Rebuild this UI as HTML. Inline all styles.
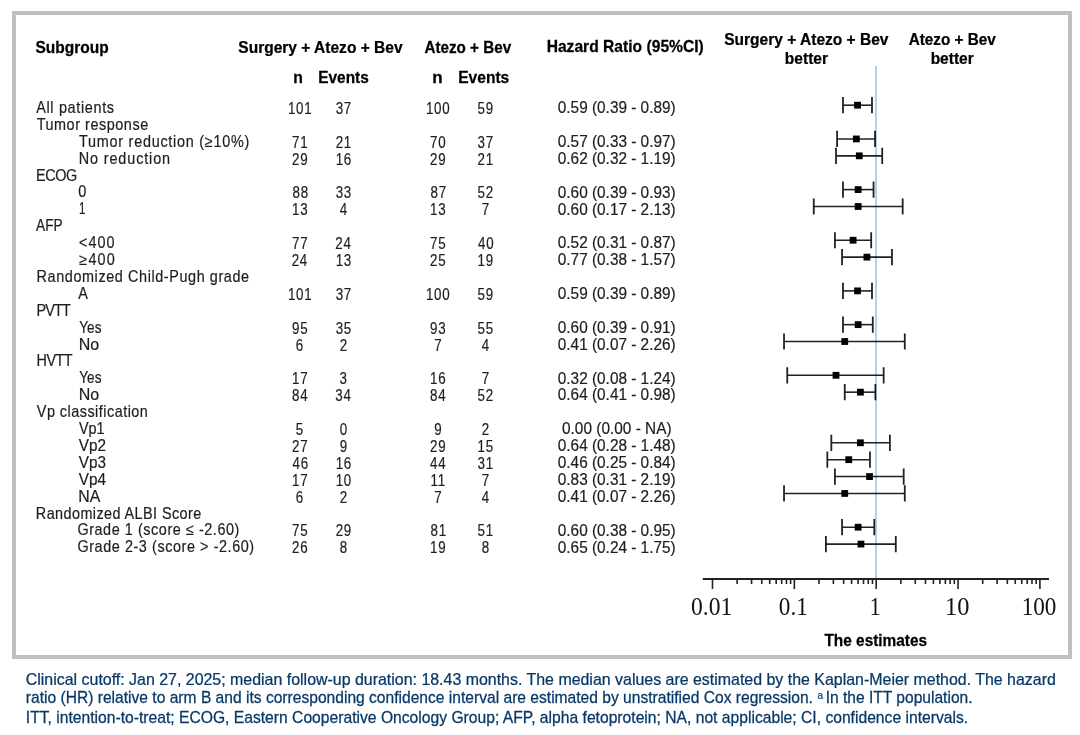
<!DOCTYPE html><html><head><meta charset="utf-8"><style>html,body{margin:0;padding:0;background:#fff;}body{width:1080px;height:735px;overflow:hidden;}svg{display:block;filter:blur(0.3px);}</style></head><body>
<svg width="1080" height="735" viewBox="0 0 1080 735">
<rect x="0" y="0" width="1080" height="735" fill="#fff"/>
<rect x="14" y="13" width="1056" height="644" fill="none" stroke="#bfbfbf" stroke-width="4"/>
<path d="M842.98 105.20H872.00" stroke="#222" stroke-width="1.6" fill="none"/>
<path d="M842.98 97.10V113.30M872.00 97.10V113.30" stroke="#222" stroke-width="1.8" fill="none"/>
<rect x="854.14" y="101.80" width="6.8" height="6.8" fill="#000"/>
<path d="M837.10 138.96H875.03" stroke="#222" stroke-width="1.6" fill="none"/>
<path d="M837.10 130.86V147.06M875.03 130.86V147.06" stroke="#222" stroke-width="1.8" fill="none"/>
<rect x="852.93" y="135.56" width="6.8" height="6.8" fill="#000"/>
<path d="M836.02 155.84H882.22" stroke="#222" stroke-width="1.6" fill="none"/>
<path d="M836.02 147.74V163.94M882.22 147.74V163.94" stroke="#222" stroke-width="1.8" fill="none"/>
<rect x="855.88" y="152.44" width="6.8" height="6.8" fill="#000"/>
<path d="M842.98 189.60H873.55" stroke="#222" stroke-width="1.6" fill="none"/>
<path d="M842.98 181.50V197.70M873.55 181.50V197.70" stroke="#222" stroke-width="1.8" fill="none"/>
<rect x="854.73" y="186.20" width="6.8" height="6.8" fill="#000"/>
<path d="M813.77 206.48H902.70" stroke="#222" stroke-width="1.6" fill="none"/>
<path d="M813.77 198.38V214.58M902.70 198.38V214.58" stroke="#222" stroke-width="1.8" fill="none"/>
<rect x="854.73" y="203.08" width="6.8" height="6.8" fill="#000"/>
<path d="M834.90 240.24H871.20" stroke="#222" stroke-width="1.6" fill="none"/>
<path d="M834.90 232.14V248.34M871.20 232.14V248.34" stroke="#222" stroke-width="1.8" fill="none"/>
<rect x="849.70" y="236.84" width="6.8" height="6.8" fill="#000"/>
<path d="M842.06 257.12H891.97" stroke="#222" stroke-width="1.6" fill="none"/>
<path d="M842.06 249.02V265.22M891.97 249.02V265.22" stroke="#222" stroke-width="1.8" fill="none"/>
<rect x="863.51" y="253.72" width="6.8" height="6.8" fill="#000"/>
<path d="M842.98 290.88H872.00" stroke="#222" stroke-width="1.6" fill="none"/>
<path d="M842.98 282.78V298.98M872.00 282.78V298.98" stroke="#222" stroke-width="1.8" fill="none"/>
<rect x="854.14" y="287.48" width="6.8" height="6.8" fill="#000"/>
<path d="M842.98 324.64H872.78" stroke="#222" stroke-width="1.6" fill="none"/>
<path d="M842.98 316.54V332.74M872.78 316.54V332.74" stroke="#222" stroke-width="1.8" fill="none"/>
<rect x="854.73" y="321.24" width="6.8" height="6.8" fill="#000"/>
<path d="M784.03 341.52H904.78" stroke="#222" stroke-width="1.6" fill="none"/>
<path d="M784.03 333.42V349.62M904.78 333.42V349.62" stroke="#222" stroke-width="1.8" fill="none"/>
<rect x="841.34" y="338.12" width="6.8" height="6.8" fill="#000"/>
<path d="M787.25 375.28H883.67" stroke="#222" stroke-width="1.6" fill="none"/>
<path d="M787.25 367.18V383.38M883.67 367.18V383.38" stroke="#222" stroke-width="1.8" fill="none"/>
<rect x="832.62" y="371.88" width="6.8" height="6.8" fill="#000"/>
<path d="M844.74 392.16H875.39" stroke="#222" stroke-width="1.6" fill="none"/>
<path d="M844.74 384.06V400.26M875.39 384.06V400.26" stroke="#222" stroke-width="1.8" fill="none"/>
<rect x="857.00" y="388.76" width="6.8" height="6.8" fill="#000"/>
<path d="M831.32 442.80H889.89" stroke="#222" stroke-width="1.6" fill="none"/>
<path d="M831.32 434.70V450.90M889.89 434.70V450.90" stroke="#222" stroke-width="1.8" fill="none"/>
<rect x="857.00" y="439.40" width="6.8" height="6.8" fill="#000"/>
<path d="M827.33 459.68H869.97" stroke="#222" stroke-width="1.6" fill="none"/>
<path d="M827.33 451.58V467.78M869.97 451.58V467.78" stroke="#222" stroke-width="1.8" fill="none"/>
<rect x="845.38" y="456.28" width="6.8" height="6.8" fill="#000"/>
<path d="M834.90 476.56H903.68" stroke="#222" stroke-width="1.6" fill="none"/>
<path d="M834.90 468.46V484.66M903.68 468.46V484.66" stroke="#222" stroke-width="1.8" fill="none"/>
<rect x="866.15" y="473.16" width="6.8" height="6.8" fill="#000"/>
<path d="M784.03 493.44H904.78" stroke="#222" stroke-width="1.6" fill="none"/>
<path d="M784.03 485.34V501.54M904.78 485.34V501.54" stroke="#222" stroke-width="1.8" fill="none"/>
<rect x="841.34" y="490.04" width="6.8" height="6.8" fill="#000"/>
<path d="M842.06 527.20H874.30" stroke="#222" stroke-width="1.6" fill="none"/>
<path d="M842.06 519.10V535.30M874.30 519.10V535.30" stroke="#222" stroke-width="1.8" fill="none"/>
<rect x="854.73" y="523.80" width="6.8" height="6.8" fill="#000"/>
<path d="M825.90 544.08H895.79" stroke="#222" stroke-width="1.6" fill="none"/>
<path d="M825.90 535.98V552.18M895.79 535.98V552.18" stroke="#222" stroke-width="1.8" fill="none"/>
<rect x="857.55" y="540.68" width="6.8" height="6.8" fill="#000"/>
<line x1="876" y1="66" x2="876" y2="579" stroke="#a9d5ee" stroke-width="2" style="mix-blend-mode:multiply"/>
<line x1="702.8" y1="579.0" x2="1049" y2="579.0" stroke="#222" stroke-width="2"/>
<path d="M712.50 579.0V589.0M737.14 579.0V584.0M751.55 579.0V584.0M761.78 579.0V584.0M769.71 579.0V584.0M776.19 579.0V584.0M781.67 579.0V584.0M786.42 579.0V584.0M790.60 579.0V584.0M794.35 579.0V589.0M818.99 579.0V584.0M833.40 579.0V584.0M843.63 579.0V584.0M851.56 579.0V584.0M858.04 579.0V584.0M863.52 579.0V584.0M868.27 579.0V584.0M872.45 579.0V584.0M876.20 579.0V589.0M900.84 579.0V584.0M915.25 579.0V584.0M925.48 579.0V584.0M933.41 579.0V584.0M939.89 579.0V584.0M945.37 579.0V584.0M950.12 579.0V584.0M954.30 579.0V584.0M958.05 579.0V589.0M982.69 579.0V584.0M997.10 579.0V584.0M1007.33 579.0V584.0M1015.26 579.0V584.0M1021.74 579.0V584.0M1027.22 579.0V584.0M1031.97 579.0V584.0M1036.15 579.0V584.0M1039.90 579.0V589.0" stroke="#222" stroke-width="1.6" fill="none"/>
<text transform="translate(35.40,53.20) scale(0.9579,1)" x="0" y="0" font-family="Liberation Sans, sans-serif" font-size="16.2" font-weight="bold" fill="#000" stroke="#000" stroke-width="0.25">Subgroup</text>
<text transform="translate(238.30,53.30) scale(0.9593,1)" x="0" y="0" font-family="Liberation Sans, sans-serif" font-size="16.2" font-weight="bold" fill="#000" stroke="#000" stroke-width="0.25">Surgery + Atezo + Bev</text>
<text transform="translate(424.40,53.30) scale(0.9409,1)" x="0" y="0" font-family="Liberation Sans, sans-serif" font-size="16.2" font-weight="bold" fill="#000" stroke="#000" stroke-width="0.25">Atezo + Bev</text>
<text transform="translate(546.63,51.90) scale(0.9658,1)" x="0" y="0" font-family="Liberation Sans, sans-serif" font-size="16.2" font-weight="bold" fill="#000" stroke="#000" stroke-width="0.25">Hazard Ratio (95%CI)</text>
<text transform="translate(293.22,83.00) scale(0.9750,1)" x="0" y="0" font-family="Liberation Sans, sans-serif" font-size="16.2" font-weight="bold" fill="#000" stroke="#000" stroke-width="0.25">n</text>
<text transform="translate(318.25,83.00) scale(0.9519,1)" x="0" y="0" font-family="Liberation Sans, sans-serif" font-size="16.2" font-weight="bold" fill="#000" stroke="#000" stroke-width="0.25">Events</text>
<text transform="translate(432.25,83.00) scale(1.0500,1)" x="0" y="0" font-family="Liberation Sans, sans-serif" font-size="16.2" font-weight="bold" fill="#000" stroke="#000" stroke-width="0.25">n</text>
<text transform="translate(458.24,83.00) scale(0.9615,1)" x="0" y="0" font-family="Liberation Sans, sans-serif" font-size="16.2" font-weight="bold" fill="#000" stroke="#000" stroke-width="0.25">Events</text>
<text transform="translate(724.20,44.90) scale(0.9593,1)" x="0" y="0" font-family="Liberation Sans, sans-serif" font-size="16.2" font-weight="bold" fill="#000" stroke="#000" stroke-width="0.25">Surgery + Atezo + Bev</text>
<text transform="translate(784.84,63.70) scale(0.9591,1)" x="0" y="0" font-family="Liberation Sans, sans-serif" font-size="16.2" font-weight="bold" fill="#000" stroke="#000" stroke-width="0.25">better</text>
<text transform="translate(908.70,44.90) scale(0.9441,1)" x="0" y="0" font-family="Liberation Sans, sans-serif" font-size="16.2" font-weight="bold" fill="#000" stroke="#000" stroke-width="0.25">Atezo + Bev</text>
<text transform="translate(930.64,63.70) scale(0.9591,1)" x="0" y="0" font-family="Liberation Sans, sans-serif" font-size="16.2" font-weight="bold" fill="#000" stroke="#000" stroke-width="0.25">better</text>
<text transform="translate(824.40,646.40) scale(0.9519,1)" x="0" y="0" font-family="Liberation Sans, sans-serif" font-size="16.2" font-weight="bold" fill="#000" stroke="#000" stroke-width="0.25">The estimates</text>
<text transform="translate(36.20,112.90) scale(0.9000,1)" x="0" y="0" font-family="Liberation Sans, sans-serif" font-size="16.0" letter-spacing="0.747" fill="#1e1e1e" stroke="#1e1e1e" stroke-width="0.2">All patients</text>
<text transform="translate(287.90,113.90) scale(0.8400,1)" x="0" y="0" font-family="Liberation Sans, sans-serif" font-size="15.9" letter-spacing="0.900" fill="#1e1e1e" stroke="#1e1e1e" stroke-width="0.2">101</text>
<text transform="translate(335.66,113.90) scale(0.8400,1)" x="0" y="0" font-family="Liberation Sans, sans-serif" font-size="15.9" letter-spacing="0.900" fill="#1e1e1e" stroke="#1e1e1e" stroke-width="0.2">37</text>
<text transform="translate(425.90,113.90) scale(0.8400,1)" x="0" y="0" font-family="Liberation Sans, sans-serif" font-size="15.9" letter-spacing="0.900" fill="#1e1e1e" stroke="#1e1e1e" stroke-width="0.2">100</text>
<text transform="translate(477.56,113.90) scale(0.8400,1)" x="0" y="0" font-family="Liberation Sans, sans-serif" font-size="15.9" letter-spacing="0.900" fill="#1e1e1e" stroke="#1e1e1e" stroke-width="0.2">59</text>
<text transform="translate(557.80,113.10) scale(0.9669,1)" x="0" y="0" font-family="Liberation Sans, sans-serif" font-size="15.9" fill="#1e1e1e" stroke="#1e1e1e" stroke-width="0.2">0.59 (0.39 - 0.89)</text>
<text transform="translate(36.70,129.80) scale(0.9000,1)" x="0" y="0" font-family="Liberation Sans, sans-serif" font-size="16.0" letter-spacing="0.615" fill="#1e1e1e" stroke="#1e1e1e" stroke-width="0.2">Tumor response</text>
<text transform="translate(79.10,146.70) scale(0.9000,1)" x="0" y="0" font-family="Liberation Sans, sans-serif" font-size="16.0" letter-spacing="0.825" fill="#1e1e1e" stroke="#1e1e1e" stroke-width="0.2">Tumor reduction (≥10%)</text>
<text transform="translate(292.06,147.70) scale(0.8400,1)" x="0" y="0" font-family="Liberation Sans, sans-serif" font-size="15.9" letter-spacing="0.900" fill="#1e1e1e" stroke="#1e1e1e" stroke-width="0.2">71</text>
<text transform="translate(335.66,147.70) scale(0.8400,1)" x="0" y="0" font-family="Liberation Sans, sans-serif" font-size="15.9" letter-spacing="0.900" fill="#1e1e1e" stroke="#1e1e1e" stroke-width="0.2">21</text>
<text transform="translate(430.06,147.70) scale(0.8400,1)" x="0" y="0" font-family="Liberation Sans, sans-serif" font-size="15.9" letter-spacing="0.900" fill="#1e1e1e" stroke="#1e1e1e" stroke-width="0.2">70</text>
<text transform="translate(477.56,147.70) scale(0.8400,1)" x="0" y="0" font-family="Liberation Sans, sans-serif" font-size="15.9" letter-spacing="0.900" fill="#1e1e1e" stroke="#1e1e1e" stroke-width="0.2">37</text>
<text transform="translate(557.80,146.90) scale(0.9669,1)" x="0" y="0" font-family="Liberation Sans, sans-serif" font-size="15.9" fill="#1e1e1e" stroke="#1e1e1e" stroke-width="0.2">0.57 (0.33 - 0.97)</text>
<text transform="translate(78.80,163.60) scale(0.9000,1)" x="0" y="0" font-family="Liberation Sans, sans-serif" font-size="16.0" letter-spacing="0.970" fill="#1e1e1e" stroke="#1e1e1e" stroke-width="0.2">No reduction</text>
<text transform="translate(292.06,164.60) scale(0.8400,1)" x="0" y="0" font-family="Liberation Sans, sans-serif" font-size="15.9" letter-spacing="0.900" fill="#1e1e1e" stroke="#1e1e1e" stroke-width="0.2">29</text>
<text transform="translate(335.66,164.60) scale(0.8400,1)" x="0" y="0" font-family="Liberation Sans, sans-serif" font-size="15.9" letter-spacing="0.900" fill="#1e1e1e" stroke="#1e1e1e" stroke-width="0.2">16</text>
<text transform="translate(430.06,164.60) scale(0.8400,1)" x="0" y="0" font-family="Liberation Sans, sans-serif" font-size="15.9" letter-spacing="0.900" fill="#1e1e1e" stroke="#1e1e1e" stroke-width="0.2">29</text>
<text transform="translate(477.56,164.60) scale(0.8400,1)" x="0" y="0" font-family="Liberation Sans, sans-serif" font-size="15.9" letter-spacing="0.900" fill="#1e1e1e" stroke="#1e1e1e" stroke-width="0.2">21</text>
<text transform="translate(557.80,163.80) scale(0.9669,1)" x="0" y="0" font-family="Liberation Sans, sans-serif" font-size="15.9" fill="#1e1e1e" stroke="#1e1e1e" stroke-width="0.2">0.62 (0.32 - 1.19)</text>
<text transform="translate(35.90,180.50) scale(0.9000,1)" x="0" y="0" font-family="Liberation Sans, sans-serif" font-size="16.0" letter-spacing="-0.370" fill="#1e1e1e" stroke="#1e1e1e" stroke-width="0.2">ECOG</text>
<text transform="translate(78.30,197.40) scale(0.9111,1)" x="0" y="0" font-family="Liberation Sans, sans-serif" font-size="16.0" fill="#1e1e1e" stroke="#1e1e1e" stroke-width="0.2">0</text>
<text transform="translate(292.48,198.40) scale(0.8400,1)" x="0" y="0" font-family="Liberation Sans, sans-serif" font-size="15.9" letter-spacing="0.900" fill="#1e1e1e" stroke="#1e1e1e" stroke-width="0.2">88</text>
<text transform="translate(335.66,198.40) scale(0.8400,1)" x="0" y="0" font-family="Liberation Sans, sans-serif" font-size="15.9" letter-spacing="0.900" fill="#1e1e1e" stroke="#1e1e1e" stroke-width="0.2">33</text>
<text transform="translate(430.48,198.40) scale(0.8400,1)" x="0" y="0" font-family="Liberation Sans, sans-serif" font-size="15.9" letter-spacing="0.900" fill="#1e1e1e" stroke="#1e1e1e" stroke-width="0.2">87</text>
<text transform="translate(477.56,198.40) scale(0.8400,1)" x="0" y="0" font-family="Liberation Sans, sans-serif" font-size="15.9" letter-spacing="0.900" fill="#1e1e1e" stroke="#1e1e1e" stroke-width="0.2">52</text>
<text transform="translate(557.80,197.60) scale(0.9669,1)" x="0" y="0" font-family="Liberation Sans, sans-serif" font-size="15.9" fill="#1e1e1e" stroke="#1e1e1e" stroke-width="0.2">0.60 (0.39 - 0.93)</text>
<text transform="translate(78.98,214.30) scale(0.7250,1)" x="0" y="0" font-family="Liberation Sans, sans-serif" font-size="16.0" fill="#1e1e1e" stroke="#1e1e1e" stroke-width="0.2">1</text>
<text transform="translate(292.06,215.30) scale(0.8400,1)" x="0" y="0" font-family="Liberation Sans, sans-serif" font-size="15.9" letter-spacing="0.900" fill="#1e1e1e" stroke="#1e1e1e" stroke-width="0.2">13</text>
<text transform="translate(339.82,215.30) scale(0.8400,1)" x="0" y="0" font-family="Liberation Sans, sans-serif" font-size="15.9" letter-spacing="0.900" fill="#1e1e1e" stroke="#1e1e1e" stroke-width="0.2">4</text>
<text transform="translate(430.06,215.30) scale(0.8400,1)" x="0" y="0" font-family="Liberation Sans, sans-serif" font-size="15.9" letter-spacing="0.900" fill="#1e1e1e" stroke="#1e1e1e" stroke-width="0.2">13</text>
<text transform="translate(481.72,215.30) scale(0.8400,1)" x="0" y="0" font-family="Liberation Sans, sans-serif" font-size="15.9" letter-spacing="0.900" fill="#1e1e1e" stroke="#1e1e1e" stroke-width="0.2">7</text>
<text transform="translate(557.80,214.50) scale(0.9669,1)" x="0" y="0" font-family="Liberation Sans, sans-serif" font-size="15.9" fill="#1e1e1e" stroke="#1e1e1e" stroke-width="0.2">0.60 (0.17 - 2.13)</text>
<text transform="translate(36.10,231.20) scale(0.8581,1)" x="0" y="0" font-family="Liberation Sans, sans-serif" font-size="16.0" fill="#1e1e1e" stroke="#1e1e1e" stroke-width="0.2">AFP</text>
<text transform="translate(79.10,248.10) scale(0.9000,1)" x="0" y="0" font-family="Liberation Sans, sans-serif" font-size="16.0" letter-spacing="1.074" fill="#1e1e1e" stroke="#1e1e1e" stroke-width="0.2">&lt;400</text>
<text transform="translate(292.06,249.10) scale(0.8400,1)" x="0" y="0" font-family="Liberation Sans, sans-serif" font-size="15.9" letter-spacing="0.900" fill="#1e1e1e" stroke="#1e1e1e" stroke-width="0.2">77</text>
<text transform="translate(335.24,249.10) scale(0.8400,1)" x="0" y="0" font-family="Liberation Sans, sans-serif" font-size="15.9" letter-spacing="0.900" fill="#1e1e1e" stroke="#1e1e1e" stroke-width="0.2">24</text>
<text transform="translate(430.06,249.10) scale(0.8400,1)" x="0" y="0" font-family="Liberation Sans, sans-serif" font-size="15.9" letter-spacing="0.900" fill="#1e1e1e" stroke="#1e1e1e" stroke-width="0.2">75</text>
<text transform="translate(477.98,249.10) scale(0.8400,1)" x="0" y="0" font-family="Liberation Sans, sans-serif" font-size="15.9" letter-spacing="0.900" fill="#1e1e1e" stroke="#1e1e1e" stroke-width="0.2">40</text>
<text transform="translate(557.80,248.30) scale(0.9669,1)" x="0" y="0" font-family="Liberation Sans, sans-serif" font-size="15.9" fill="#1e1e1e" stroke="#1e1e1e" stroke-width="0.2">0.52 (0.31 - 0.87)</text>
<text transform="translate(79.30,265.00) scale(0.9000,1)" x="0" y="0" font-family="Liberation Sans, sans-serif" font-size="16.0" letter-spacing="1.333" fill="#1e1e1e" stroke="#1e1e1e" stroke-width="0.2">≥400</text>
<text transform="translate(291.64,266.00) scale(0.8400,1)" x="0" y="0" font-family="Liberation Sans, sans-serif" font-size="15.9" letter-spacing="0.900" fill="#1e1e1e" stroke="#1e1e1e" stroke-width="0.2">24</text>
<text transform="translate(335.66,266.00) scale(0.8400,1)" x="0" y="0" font-family="Liberation Sans, sans-serif" font-size="15.9" letter-spacing="0.900" fill="#1e1e1e" stroke="#1e1e1e" stroke-width="0.2">13</text>
<text transform="translate(430.06,266.00) scale(0.8400,1)" x="0" y="0" font-family="Liberation Sans, sans-serif" font-size="15.9" letter-spacing="0.900" fill="#1e1e1e" stroke="#1e1e1e" stroke-width="0.2">25</text>
<text transform="translate(477.56,266.00) scale(0.8400,1)" x="0" y="0" font-family="Liberation Sans, sans-serif" font-size="15.9" letter-spacing="0.900" fill="#1e1e1e" stroke="#1e1e1e" stroke-width="0.2">19</text>
<text transform="translate(557.80,265.20) scale(0.9669,1)" x="0" y="0" font-family="Liberation Sans, sans-serif" font-size="15.9" fill="#1e1e1e" stroke="#1e1e1e" stroke-width="0.2">0.77 (0.38 - 1.57)</text>
<text transform="translate(36.60,281.90) scale(0.9000,1)" x="0" y="0" font-family="Liberation Sans, sans-serif" font-size="16.0" letter-spacing="0.667" fill="#1e1e1e" stroke="#1e1e1e" stroke-width="0.2">Randomized Child-Pugh grade</text>
<text transform="translate(78.30,298.80) scale(0.9000,1)" x="0" y="0" font-family="Liberation Sans, sans-serif" font-size="16.0" fill="#1e1e1e" stroke="#1e1e1e" stroke-width="0.2">A</text>
<text transform="translate(287.90,299.80) scale(0.8400,1)" x="0" y="0" font-family="Liberation Sans, sans-serif" font-size="15.9" letter-spacing="0.900" fill="#1e1e1e" stroke="#1e1e1e" stroke-width="0.2">101</text>
<text transform="translate(335.66,299.80) scale(0.8400,1)" x="0" y="0" font-family="Liberation Sans, sans-serif" font-size="15.9" letter-spacing="0.900" fill="#1e1e1e" stroke="#1e1e1e" stroke-width="0.2">37</text>
<text transform="translate(425.90,299.80) scale(0.8400,1)" x="0" y="0" font-family="Liberation Sans, sans-serif" font-size="15.9" letter-spacing="0.900" fill="#1e1e1e" stroke="#1e1e1e" stroke-width="0.2">100</text>
<text transform="translate(477.56,299.80) scale(0.8400,1)" x="0" y="0" font-family="Liberation Sans, sans-serif" font-size="15.9" letter-spacing="0.900" fill="#1e1e1e" stroke="#1e1e1e" stroke-width="0.2">59</text>
<text transform="translate(557.80,299.00) scale(0.9669,1)" x="0" y="0" font-family="Liberation Sans, sans-serif" font-size="15.9" fill="#1e1e1e" stroke="#1e1e1e" stroke-width="0.2">0.59 (0.39 - 0.89)</text>
<text transform="translate(36.60,315.70) scale(0.9000,1)" x="0" y="0" font-family="Liberation Sans, sans-serif" font-size="16.0" letter-spacing="-1.000" fill="#1e1e1e" stroke="#1e1e1e" stroke-width="0.2">PVTT</text>
<text transform="translate(79.30,332.60) scale(0.8500,1)" x="0" y="0" font-family="Liberation Sans, sans-serif" font-size="16.0" fill="#1e1e1e" stroke="#1e1e1e" stroke-width="0.2">Yes</text>
<text transform="translate(292.06,333.60) scale(0.8400,1)" x="0" y="0" font-family="Liberation Sans, sans-serif" font-size="15.9" letter-spacing="0.900" fill="#1e1e1e" stroke="#1e1e1e" stroke-width="0.2">95</text>
<text transform="translate(335.66,333.60) scale(0.8400,1)" x="0" y="0" font-family="Liberation Sans, sans-serif" font-size="15.9" letter-spacing="0.900" fill="#1e1e1e" stroke="#1e1e1e" stroke-width="0.2">35</text>
<text transform="translate(430.06,333.60) scale(0.8400,1)" x="0" y="0" font-family="Liberation Sans, sans-serif" font-size="15.9" letter-spacing="0.900" fill="#1e1e1e" stroke="#1e1e1e" stroke-width="0.2">93</text>
<text transform="translate(477.56,333.60) scale(0.8400,1)" x="0" y="0" font-family="Liberation Sans, sans-serif" font-size="15.9" letter-spacing="0.900" fill="#1e1e1e" stroke="#1e1e1e" stroke-width="0.2">55</text>
<text transform="translate(557.80,332.80) scale(0.9669,1)" x="0" y="0" font-family="Liberation Sans, sans-serif" font-size="15.9" fill="#1e1e1e" stroke="#1e1e1e" stroke-width="0.2">0.60 (0.39 - 0.91)</text>
<text transform="translate(78.70,349.50) scale(1.0000,1)" x="0" y="0" font-family="Liberation Sans, sans-serif" font-size="16.0" fill="#1e1e1e" stroke="#1e1e1e" stroke-width="0.2">No</text>
<text transform="translate(295.80,350.50) scale(0.8400,1)" x="0" y="0" font-family="Liberation Sans, sans-serif" font-size="15.9" letter-spacing="0.900" fill="#1e1e1e" stroke="#1e1e1e" stroke-width="0.2">6</text>
<text transform="translate(339.82,350.50) scale(0.8400,1)" x="0" y="0" font-family="Liberation Sans, sans-serif" font-size="15.9" letter-spacing="0.900" fill="#1e1e1e" stroke="#1e1e1e" stroke-width="0.2">2</text>
<text transform="translate(434.22,350.50) scale(0.8400,1)" x="0" y="0" font-family="Liberation Sans, sans-serif" font-size="15.9" letter-spacing="0.900" fill="#1e1e1e" stroke="#1e1e1e" stroke-width="0.2">7</text>
<text transform="translate(481.72,350.50) scale(0.8400,1)" x="0" y="0" font-family="Liberation Sans, sans-serif" font-size="15.9" letter-spacing="0.900" fill="#1e1e1e" stroke="#1e1e1e" stroke-width="0.2">4</text>
<text transform="translate(557.80,349.70) scale(0.9669,1)" x="0" y="0" font-family="Liberation Sans, sans-serif" font-size="15.9" fill="#1e1e1e" stroke="#1e1e1e" stroke-width="0.2">0.41 (0.07 - 2.26)</text>
<text transform="translate(36.60,366.40) scale(0.9000,1)" x="0" y="0" font-family="Liberation Sans, sans-serif" font-size="16.0" letter-spacing="-0.593" fill="#1e1e1e" stroke="#1e1e1e" stroke-width="0.2">HVTT</text>
<text transform="translate(79.30,383.30) scale(0.8500,1)" x="0" y="0" font-family="Liberation Sans, sans-serif" font-size="16.0" fill="#1e1e1e" stroke="#1e1e1e" stroke-width="0.2">Yes</text>
<text transform="translate(292.06,384.30) scale(0.8400,1)" x="0" y="0" font-family="Liberation Sans, sans-serif" font-size="15.9" letter-spacing="0.900" fill="#1e1e1e" stroke="#1e1e1e" stroke-width="0.2">17</text>
<text transform="translate(339.40,384.30) scale(0.8400,1)" x="0" y="0" font-family="Liberation Sans, sans-serif" font-size="15.9" letter-spacing="0.900" fill="#1e1e1e" stroke="#1e1e1e" stroke-width="0.2">3</text>
<text transform="translate(430.06,384.30) scale(0.8400,1)" x="0" y="0" font-family="Liberation Sans, sans-serif" font-size="15.9" letter-spacing="0.900" fill="#1e1e1e" stroke="#1e1e1e" stroke-width="0.2">16</text>
<text transform="translate(481.72,384.30) scale(0.8400,1)" x="0" y="0" font-family="Liberation Sans, sans-serif" font-size="15.9" letter-spacing="0.900" fill="#1e1e1e" stroke="#1e1e1e" stroke-width="0.2">7</text>
<text transform="translate(557.80,383.50) scale(0.9669,1)" x="0" y="0" font-family="Liberation Sans, sans-serif" font-size="15.9" fill="#1e1e1e" stroke="#1e1e1e" stroke-width="0.2">0.32 (0.08 - 1.24)</text>
<text transform="translate(78.70,400.20) scale(1.0000,1)" x="0" y="0" font-family="Liberation Sans, sans-serif" font-size="16.0" fill="#1e1e1e" stroke="#1e1e1e" stroke-width="0.2">No</text>
<text transform="translate(292.06,401.20) scale(0.8400,1)" x="0" y="0" font-family="Liberation Sans, sans-serif" font-size="15.9" letter-spacing="0.900" fill="#1e1e1e" stroke="#1e1e1e" stroke-width="0.2">84</text>
<text transform="translate(335.24,401.20) scale(0.8400,1)" x="0" y="0" font-family="Liberation Sans, sans-serif" font-size="15.9" letter-spacing="0.900" fill="#1e1e1e" stroke="#1e1e1e" stroke-width="0.2">34</text>
<text transform="translate(430.06,401.20) scale(0.8400,1)" x="0" y="0" font-family="Liberation Sans, sans-serif" font-size="15.9" letter-spacing="0.900" fill="#1e1e1e" stroke="#1e1e1e" stroke-width="0.2">84</text>
<text transform="translate(477.56,401.20) scale(0.8400,1)" x="0" y="0" font-family="Liberation Sans, sans-serif" font-size="15.9" letter-spacing="0.900" fill="#1e1e1e" stroke="#1e1e1e" stroke-width="0.2">52</text>
<text transform="translate(557.80,400.40) scale(0.9669,1)" x="0" y="0" font-family="Liberation Sans, sans-serif" font-size="15.9" fill="#1e1e1e" stroke="#1e1e1e" stroke-width="0.2">0.64 (0.41 - 0.98)</text>
<text transform="translate(36.80,417.10) scale(0.9000,1)" x="0" y="0" font-family="Liberation Sans, sans-serif" font-size="16.0" letter-spacing="0.542" fill="#1e1e1e" stroke="#1e1e1e" stroke-width="0.2">Vp classification</text>
<text transform="translate(79.00,434.00) scale(0.8964,1)" x="0" y="0" font-family="Liberation Sans, sans-serif" font-size="16.0" fill="#1e1e1e" stroke="#1e1e1e" stroke-width="0.2">Vp1</text>
<text transform="translate(295.80,435.00) scale(0.8400,1)" x="0" y="0" font-family="Liberation Sans, sans-serif" font-size="15.9" letter-spacing="0.900" fill="#1e1e1e" stroke="#1e1e1e" stroke-width="0.2">5</text>
<text transform="translate(339.82,435.00) scale(0.8400,1)" x="0" y="0" font-family="Liberation Sans, sans-serif" font-size="15.9" letter-spacing="0.900" fill="#1e1e1e" stroke="#1e1e1e" stroke-width="0.2">0</text>
<text transform="translate(434.22,435.00) scale(0.8400,1)" x="0" y="0" font-family="Liberation Sans, sans-serif" font-size="15.9" letter-spacing="0.900" fill="#1e1e1e" stroke="#1e1e1e" stroke-width="0.2">9</text>
<text transform="translate(481.72,435.00) scale(0.8400,1)" x="0" y="0" font-family="Liberation Sans, sans-serif" font-size="15.9" letter-spacing="0.900" fill="#1e1e1e" stroke="#1e1e1e" stroke-width="0.2">2</text>
<text transform="translate(562.00,434.20) scale(0.9696,1)" x="0" y="0" font-family="Liberation Sans, sans-serif" font-size="15.9" fill="#1e1e1e" stroke="#1e1e1e" stroke-width="0.2">0.00 (0.00 - NA)</text>
<text transform="translate(78.70,450.90) scale(0.9571,1)" x="0" y="0" font-family="Liberation Sans, sans-serif" font-size="16.0" fill="#1e1e1e" stroke="#1e1e1e" stroke-width="0.2">Vp2</text>
<text transform="translate(292.06,451.90) scale(0.8400,1)" x="0" y="0" font-family="Liberation Sans, sans-serif" font-size="15.9" letter-spacing="0.900" fill="#1e1e1e" stroke="#1e1e1e" stroke-width="0.2">27</text>
<text transform="translate(339.82,451.90) scale(0.8400,1)" x="0" y="0" font-family="Liberation Sans, sans-serif" font-size="15.9" letter-spacing="0.900" fill="#1e1e1e" stroke="#1e1e1e" stroke-width="0.2">9</text>
<text transform="translate(430.06,451.90) scale(0.8400,1)" x="0" y="0" font-family="Liberation Sans, sans-serif" font-size="15.9" letter-spacing="0.900" fill="#1e1e1e" stroke="#1e1e1e" stroke-width="0.2">29</text>
<text transform="translate(477.56,451.90) scale(0.8400,1)" x="0" y="0" font-family="Liberation Sans, sans-serif" font-size="15.9" letter-spacing="0.900" fill="#1e1e1e" stroke="#1e1e1e" stroke-width="0.2">15</text>
<text transform="translate(557.80,451.10) scale(0.9669,1)" x="0" y="0" font-family="Liberation Sans, sans-serif" font-size="15.9" fill="#1e1e1e" stroke="#1e1e1e" stroke-width="0.2">0.64 (0.28 - 1.48)</text>
<text transform="translate(78.70,467.80) scale(0.9571,1)" x="0" y="0" font-family="Liberation Sans, sans-serif" font-size="16.0" fill="#1e1e1e" stroke="#1e1e1e" stroke-width="0.2">Vp3</text>
<text transform="translate(292.48,468.80) scale(0.8400,1)" x="0" y="0" font-family="Liberation Sans, sans-serif" font-size="15.9" letter-spacing="0.900" fill="#1e1e1e" stroke="#1e1e1e" stroke-width="0.2">46</text>
<text transform="translate(335.66,468.80) scale(0.8400,1)" x="0" y="0" font-family="Liberation Sans, sans-serif" font-size="15.9" letter-spacing="0.900" fill="#1e1e1e" stroke="#1e1e1e" stroke-width="0.2">16</text>
<text transform="translate(430.06,468.80) scale(0.8400,1)" x="0" y="0" font-family="Liberation Sans, sans-serif" font-size="15.9" letter-spacing="0.900" fill="#1e1e1e" stroke="#1e1e1e" stroke-width="0.2">44</text>
<text transform="translate(477.56,468.80) scale(0.8400,1)" x="0" y="0" font-family="Liberation Sans, sans-serif" font-size="15.9" letter-spacing="0.900" fill="#1e1e1e" stroke="#1e1e1e" stroke-width="0.2">31</text>
<text transform="translate(557.80,468.00) scale(0.9669,1)" x="0" y="0" font-family="Liberation Sans, sans-serif" font-size="15.9" fill="#1e1e1e" stroke="#1e1e1e" stroke-width="0.2">0.46 (0.25 - 0.84)</text>
<text transform="translate(78.70,484.70) scale(0.9571,1)" x="0" y="0" font-family="Liberation Sans, sans-serif" font-size="16.0" fill="#1e1e1e" stroke="#1e1e1e" stroke-width="0.2">Vp4</text>
<text transform="translate(292.06,485.70) scale(0.8400,1)" x="0" y="0" font-family="Liberation Sans, sans-serif" font-size="15.9" letter-spacing="0.900" fill="#1e1e1e" stroke="#1e1e1e" stroke-width="0.2">17</text>
<text transform="translate(335.66,485.70) scale(0.8400,1)" x="0" y="0" font-family="Liberation Sans, sans-serif" font-size="15.9" letter-spacing="0.900" fill="#1e1e1e" stroke="#1e1e1e" stroke-width="0.2">10</text>
<text transform="translate(430.48,485.70) scale(0.8400,1)" x="0" y="0" font-family="Liberation Sans, sans-serif" font-size="15.9" letter-spacing="0.900" fill="#1e1e1e" stroke="#1e1e1e" stroke-width="0.2">11</text>
<text transform="translate(481.72,485.70) scale(0.8400,1)" x="0" y="0" font-family="Liberation Sans, sans-serif" font-size="15.9" letter-spacing="0.900" fill="#1e1e1e" stroke="#1e1e1e" stroke-width="0.2">7</text>
<text transform="translate(557.80,484.90) scale(0.9669,1)" x="0" y="0" font-family="Liberation Sans, sans-serif" font-size="15.9" fill="#1e1e1e" stroke="#1e1e1e" stroke-width="0.2">0.83 (0.31 - 2.19)</text>
<text transform="translate(78.21,501.60) scale(0.9905,1)" x="0" y="0" font-family="Liberation Sans, sans-serif" font-size="16.0" fill="#1e1e1e" stroke="#1e1e1e" stroke-width="0.2">NA</text>
<text transform="translate(295.80,502.60) scale(0.8400,1)" x="0" y="0" font-family="Liberation Sans, sans-serif" font-size="15.9" letter-spacing="0.900" fill="#1e1e1e" stroke="#1e1e1e" stroke-width="0.2">6</text>
<text transform="translate(339.82,502.60) scale(0.8400,1)" x="0" y="0" font-family="Liberation Sans, sans-serif" font-size="15.9" letter-spacing="0.900" fill="#1e1e1e" stroke="#1e1e1e" stroke-width="0.2">2</text>
<text transform="translate(434.22,502.60) scale(0.8400,1)" x="0" y="0" font-family="Liberation Sans, sans-serif" font-size="15.9" letter-spacing="0.900" fill="#1e1e1e" stroke="#1e1e1e" stroke-width="0.2">7</text>
<text transform="translate(481.72,502.60) scale(0.8400,1)" x="0" y="0" font-family="Liberation Sans, sans-serif" font-size="15.9" letter-spacing="0.900" fill="#1e1e1e" stroke="#1e1e1e" stroke-width="0.2">4</text>
<text transform="translate(557.80,501.80) scale(0.9669,1)" x="0" y="0" font-family="Liberation Sans, sans-serif" font-size="15.9" fill="#1e1e1e" stroke="#1e1e1e" stroke-width="0.2">0.41 (0.07 - 2.26)</text>
<text transform="translate(35.80,518.50) scale(0.9000,1)" x="0" y="0" font-family="Liberation Sans, sans-serif" font-size="16.0" letter-spacing="0.478" fill="#1e1e1e" stroke="#1e1e1e" stroke-width="0.2">Randomized ALBI Score</text>
<text transform="translate(77.40,535.40) scale(0.9000,1)" x="0" y="0" font-family="Liberation Sans, sans-serif" font-size="16.0" letter-spacing="0.626" fill="#1e1e1e" stroke="#1e1e1e" stroke-width="0.2">Grade 1 (score ≤ -2.60)</text>
<text transform="translate(292.06,536.40) scale(0.8400,1)" x="0" y="0" font-family="Liberation Sans, sans-serif" font-size="15.9" letter-spacing="0.900" fill="#1e1e1e" stroke="#1e1e1e" stroke-width="0.2">75</text>
<text transform="translate(335.66,536.40) scale(0.8400,1)" x="0" y="0" font-family="Liberation Sans, sans-serif" font-size="15.9" letter-spacing="0.900" fill="#1e1e1e" stroke="#1e1e1e" stroke-width="0.2">29</text>
<text transform="translate(430.48,536.40) scale(0.8400,1)" x="0" y="0" font-family="Liberation Sans, sans-serif" font-size="15.9" letter-spacing="0.900" fill="#1e1e1e" stroke="#1e1e1e" stroke-width="0.2">81</text>
<text transform="translate(477.56,536.40) scale(0.8400,1)" x="0" y="0" font-family="Liberation Sans, sans-serif" font-size="15.9" letter-spacing="0.900" fill="#1e1e1e" stroke="#1e1e1e" stroke-width="0.2">51</text>
<text transform="translate(557.80,535.60) scale(0.9669,1)" x="0" y="0" font-family="Liberation Sans, sans-serif" font-size="15.9" fill="#1e1e1e" stroke="#1e1e1e" stroke-width="0.2">0.60 (0.38 - 0.95)</text>
<text transform="translate(77.40,552.30) scale(0.9000,1)" x="0" y="0" font-family="Liberation Sans, sans-serif" font-size="16.0" letter-spacing="0.644" fill="#1e1e1e" stroke="#1e1e1e" stroke-width="0.2">Grade 2-3 (score &gt; -2.60)</text>
<text transform="translate(292.06,553.30) scale(0.8400,1)" x="0" y="0" font-family="Liberation Sans, sans-serif" font-size="15.9" letter-spacing="0.900" fill="#1e1e1e" stroke="#1e1e1e" stroke-width="0.2">26</text>
<text transform="translate(339.82,553.30) scale(0.8400,1)" x="0" y="0" font-family="Liberation Sans, sans-serif" font-size="15.9" letter-spacing="0.900" fill="#1e1e1e" stroke="#1e1e1e" stroke-width="0.2">8</text>
<text transform="translate(430.06,553.30) scale(0.8400,1)" x="0" y="0" font-family="Liberation Sans, sans-serif" font-size="15.9" letter-spacing="0.900" fill="#1e1e1e" stroke="#1e1e1e" stroke-width="0.2">19</text>
<text transform="translate(481.72,553.30) scale(0.8400,1)" x="0" y="0" font-family="Liberation Sans, sans-serif" font-size="15.9" letter-spacing="0.900" fill="#1e1e1e" stroke="#1e1e1e" stroke-width="0.2">8</text>
<text transform="translate(557.80,552.50) scale(0.9669,1)" x="0" y="0" font-family="Liberation Sans, sans-serif" font-size="15.9" fill="#1e1e1e" stroke="#1e1e1e" stroke-width="0.2">0.65 (0.24 - 1.75)</text>
<text transform="translate(690.96,615.30) scale(0.9439,1)" x="0" y="0" font-family="Liberation Serif, serif" font-size="25" fill="#111">0.01</text>
<text transform="translate(778.87,615.30) scale(0.9276,1)" x="0" y="0" font-family="Liberation Serif, serif" font-size="25" fill="#111">0.1</text>
<text transform="translate(869.77,615.30) scale(0.8667,1)" x="0" y="0" font-family="Liberation Serif, serif" font-size="25" fill="#111">1</text>
<text transform="translate(945.05,615.30) scale(0.9773,1)" x="0" y="0" font-family="Liberation Serif, serif" font-size="25" fill="#111">10</text>
<text transform="translate(1021.65,615.30) scale(0.9257,1)" x="0" y="0" font-family="Liberation Serif, serif" font-size="25" fill="#111">100</text>
<text transform="translate(25.78,684.80) scale(1.0154,1)" x="0" y="0" font-family="Liberation Sans, sans-serif" font-size="15.7" fill="#083868" stroke="#083868" stroke-width="0.25">Clinical cutoff: Jan 27, 2025; median follow-up duration: 18.43 months. The median values are estimated by the Kaplan-Meier method. The hazard</text>
<text transform="translate(25.81,703.40) scale(0.9944,1)" x="0" y="0" font-family="Liberation Sans, sans-serif" font-size="15.7" fill="#083868" stroke="#083868" stroke-width="0.25">ratio (HR) relative to arm B and its corresponding confidence interval are estimated by unstratified Cox regression.</text>
<text transform="translate(817.60,699.00) scale(0.9500,1)" x="0" y="0" font-family="Liberation Sans, sans-serif" font-size="10.5" fill="#083868" stroke="#083868" stroke-width="0.2">a</text>
<text transform="translate(825.71,703.40) scale(0.9925,1)" x="0" y="0" font-family="Liberation Sans, sans-serif" font-size="15.7" fill="#083868" stroke="#083868" stroke-width="0.25">In the ITT population.</text>
<text transform="translate(25.80,722.60) scale(0.9983,1)" x="0" y="0" font-family="Liberation Sans, sans-serif" font-size="15.7" fill="#083868" stroke="#083868" stroke-width="0.25">ITT, intention-to-treat; ECOG, Eastern Cooperative Oncology Group; AFP, alpha fetoprotein; NA, not applicable; CI, confidence intervals.</text>
</svg></body></html>
